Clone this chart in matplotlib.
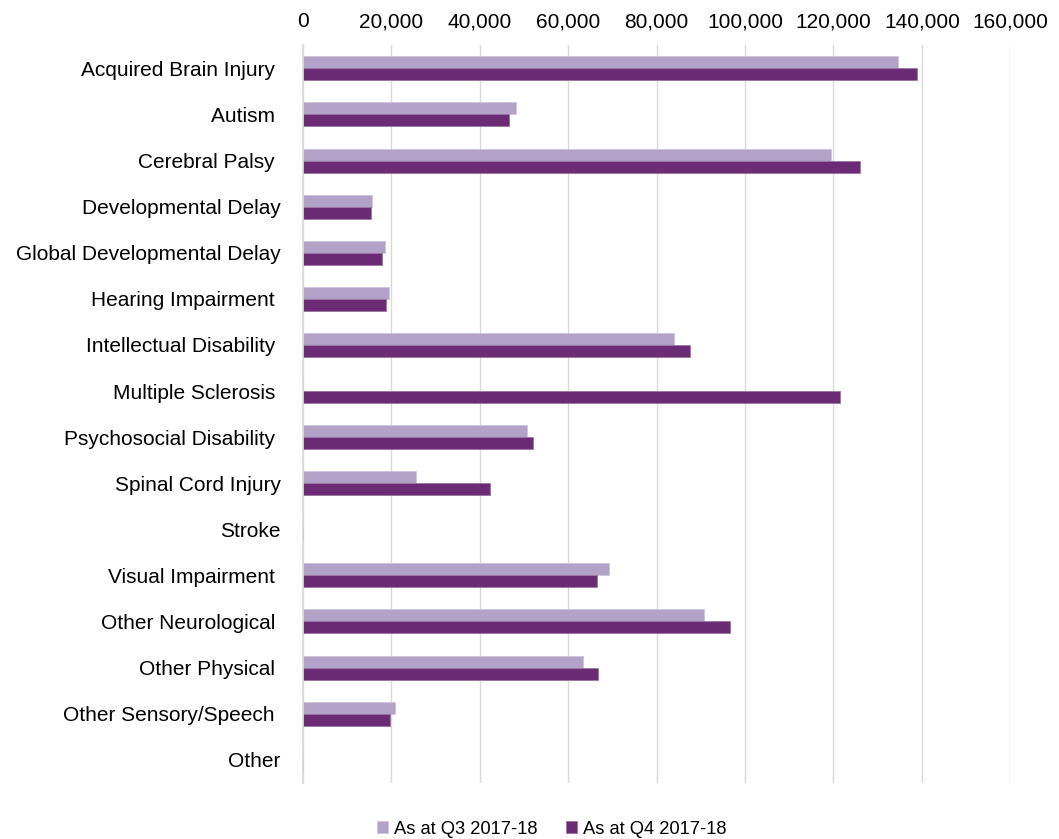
import numpy as np
import matplotlib
matplotlib.use('Agg')
from matplotlib import pyplot as plt
from matplotlib.ticker import FuncFormatter

plt.rcParams['font.family'] = ['Liberation Sans', 'DejaVu Sans']

# data
categories = ['Acquired Brain Injury ', 'Autism ', 'Cerebral Palsy ', 'Developmental Delay',
              'Global Developmental Delay', 'Hearing Impairment ', 'Intellectual Disability ',
              'Multiple Sclerosis ', 'Psychosocial Disability ', 'Spinal Cord Injury', 'Stroke',
              'Visual Impairment ', 'Other Neurological ', 'Other Physical ',
              'Other Sensory/Speech ', 'Other']
q3_vals = [134600, 48300, 119500, 15600, 18600, 19500, 83900, 0, 50600, 25600, 0,
           69300, 90800, 63300, 20850, 0]
q4_vals = [139000, 46700, 125900, 15400, 18000, 18800, 87600, 121400, 52100, 42300, 0,
           66550, 96500, 66800, 19700, 0]
series_names = ['As at Q3 2017-18', 'As at Q4 2017-18']
x_ticks = [0, 20000, 40000, 60000, 80000, 100000, 120000, 140000, 160000]

light = '#B3A2C8'
dark = '#6B2C75'

fig = plt.figure(figsize=(10.59, 8.39), dpi=100)
ax = fig.add_axes([0.286, 0.067, 0.668, 0.879])

y = np.arange(len(categories))
h = 0.26
ax.barh(y - h / 2, q3_vals, height=h, color=light, edgecolor='#CFC4DC', linewidth=0.6,
        label=series_names[0], zorder=3)
ax.barh(y + h / 2, q4_vals, height=h, color=dark, edgecolor='#9A75A3', linewidth=0.6,
        label=series_names[1], zorder=3)

ax.set_xlim(0, 160000)
ax.set_ylim(len(categories) - 0.5, -0.5)
ax.set_xticks(x_ticks)
ax.xaxis.set_major_formatter(FuncFormatter(lambda v, p: f'{int(v):,}'))
ax.xaxis.tick_top()
ax.set_yticks(y)
ax.set_yticklabels(categories)
ax.tick_params(axis='both', length=0, labelsize=15, colors='#000000')
ax.tick_params(axis='y', pad=16)
ax.tick_params(axis='x', pad=10)
ax.grid(axis='x', color='#D9D9D9', linewidth=1, zorder=0)
for s in ['top', 'right', 'bottom']:
    ax.spines[s].set_visible(False)
ax.spines['left'].set_color('#D9D9D9')
ax.spines['left'].set_linewidth(1.2)
ax.spines['left'].set_zorder(4)

fig.legend(loc='lower center', bbox_to_anchor=(0.521, -0.018), ncol=2, frameon=False,
           fontsize=13.2, handlelength=0.6, handleheight=0.6, handletextpad=0.3,
           columnspacing=1.6)

fig.savefig('out.png', dpi=100)
